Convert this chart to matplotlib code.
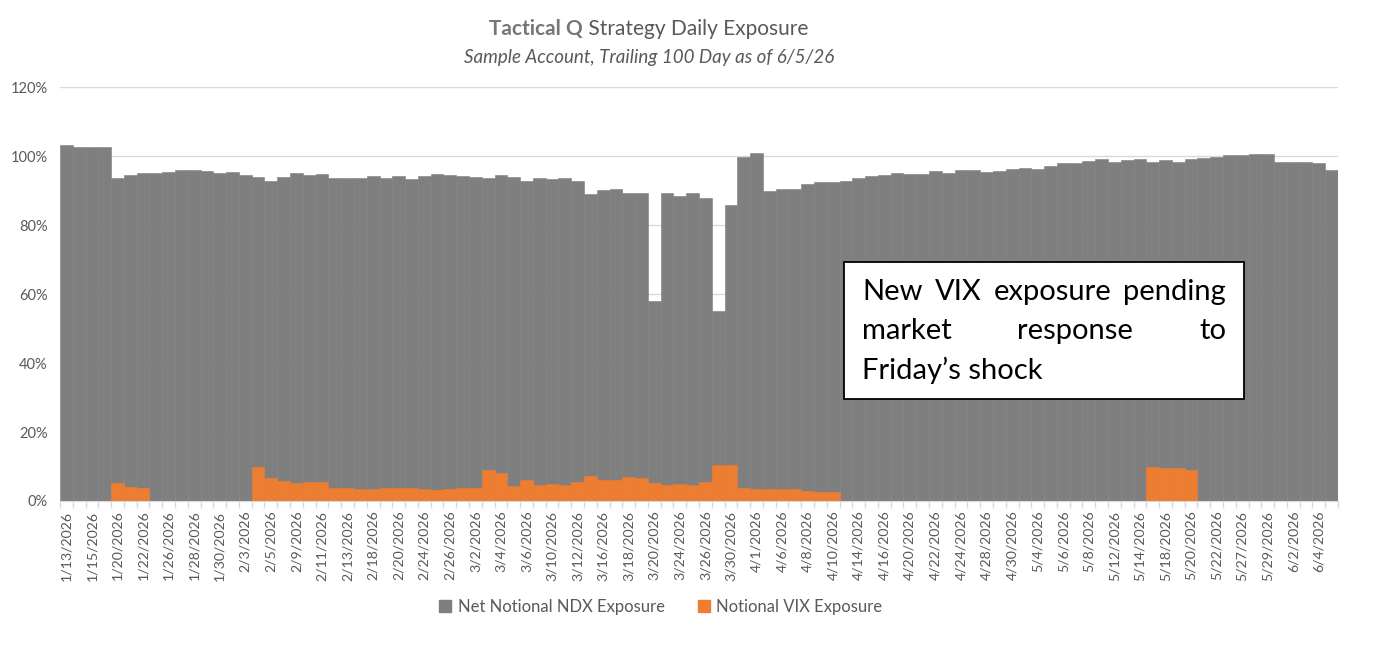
import numpy as np
import matplotlib.pyplot as plt
from matplotlib.patches import Rectangle, Patch

plt.rcParams['font.family'] = ['Lato', 'DejaVu Sans']

# trading days, 1/13/2026 .. 6/5/2026
dates = [
    "1/13/2026", "1/14/2026", "1/15/2026", "1/16/2026", "1/20/2026", "1/21/2026", "1/22/2026", "1/23/2026",
    "1/26/2026", "1/27/2026", "1/28/2026", "1/29/2026", "1/30/2026", "2/2/2026", "2/3/2026", "2/4/2026",
    "2/5/2026", "2/6/2026", "2/9/2026", "2/10/2026", "2/11/2026", "2/12/2026", "2/13/2026", "2/17/2026",
    "2/18/2026", "2/19/2026", "2/20/2026", "2/23/2026", "2/24/2026", "2/25/2026", "2/26/2026", "2/27/2026",
    "3/2/2026", "3/3/2026", "3/4/2026", "3/5/2026", "3/6/2026", "3/9/2026", "3/10/2026", "3/11/2026",
    "3/12/2026", "3/13/2026", "3/16/2026", "3/17/2026", "3/18/2026", "3/19/2026", "3/20/2026", "3/23/2026",
    "3/24/2026", "3/25/2026", "3/26/2026", "3/27/2026", "3/30/2026", "3/31/2026", "4/1/2026", "4/2/2026",
    "4/6/2026", "4/7/2026", "4/8/2026", "4/9/2026", "4/10/2026", "4/13/2026", "4/14/2026", "4/15/2026",
    "4/16/2026", "4/17/2026", "4/20/2026", "4/21/2026", "4/22/2026", "4/23/2026", "4/24/2026", "4/27/2026",
    "4/28/2026", "4/29/2026", "4/30/2026", "5/1/2026", "5/4/2026", "5/5/2026", "5/6/2026", "5/7/2026",
    "5/8/2026", "5/11/2026", "5/12/2026", "5/13/2026", "5/14/2026", "5/15/2026", "5/18/2026", "5/19/2026",
    "5/20/2026", "5/21/2026", "5/22/2026", "5/26/2026", "5/27/2026", "5/28/2026", "5/29/2026", "6/1/2026",
    "6/2/2026", "6/3/2026", "6/4/2026", "6/5/2026",
]

# net notional NDX exposure, %
ndx = [
    103.3, 102.6, 102.6, 102.6, 93.8, 94.6, 95.1, 95.3, 95.4, 95.9,
    96.1, 95.6, 95.1, 95.4, 94.6, 93.9, 92.7, 93.9, 95.1, 94.6,
    94.9, 93.8, 93.8, 93.8, 94.2, 93.8, 94.2, 93.5, 94.2, 94.9,
    94.5, 94.2, 94.1, 93.6, 94.6, 93.9, 92.7, 93.7, 93.4, 93.7,
    92.7, 89.0, 90.1, 90.4, 89.4, 89.4, 58.1, 89.4, 88.6, 89.4,
    88.0, 55.2, 85.9, 99.8, 100.9, 89.8, 90.5, 90.5, 92.0, 92.5,
    92.5, 92.9, 93.6, 94.4, 94.7, 95.3, 95.0, 94.8, 95.6, 95.3,
    96.0, 96.0, 95.5, 95.8, 96.3, 96.7, 96.4, 97.1, 98.0, 98.0,
    98.7, 99.1, 98.5, 99.0, 99.2, 98.5, 98.8, 98.3, 99.1, 99.4,
    99.7, 100.4, 100.4, 100.8, 100.8, 98.4, 98.4, 98.4, 98.1, 96.1,
]

# notional VIX exposure, %
vix = [
    0, 0, 0, 0, 5.2, 4.2, 3.9, 0, 0, 0,
    0, 0, 0, 0, 0, 9.9, 6.8, 5.8, 5.3, 5.6,
    5.4, 3.8, 3.8, 3.6, 3.6, 3.9, 3.8, 3.9, 3.6, 3.3,
    3.5, 3.7, 3.9, 9.0, 8.1, 4.3, 6.0, 4.6, 5.0, 4.5,
    5.4, 7.3, 6.2, 6.0, 7.0, 6.6, 5.1, 4.6, 4.8, 4.6,
    5.5, 10.4, 10.3, 3.8, 3.5, 3.4, 3.4, 3.5, 2.8, 2.5,
    2.5, 0, 0, 0, 0, 0, 0, 0, 0, 0,
    0, 0, 0, 0, 0, 0, 0, 0, 0, 0,
    0, 0, 0, 0, 0, 9.95, 9.7, 9.5, 9.0, 0,
    0, 0, 0, 0, 0, 0, 0, 0, 0, 0,
]

GRAY = "#7f7f7f"
ORANGE = "#ed7d31"
TXT = "#595959"
GRID = "#d9d9d9"

W, H = 1374, 652
fig = plt.figure(figsize=(W / 100, H / 100), dpi=100)
ax = fig.add_axes([60 / W, 1 - 501 / H, 1278 / W, (501 - 87.4) / H])

x = np.arange(len(dates))
ax.bar(x, ndx, width=1.0, color=GRAY, edgecolor=GRAY, linewidth=0.4, zorder=2)
ax.bar(x, vix, width=1.0, color=ORANGE, edgecolor=ORANGE, linewidth=0.4, zorder=3)

ax.set_xlim(-0.5, len(dates) - 0.5)
ax.set_ylim(0, 120)
ax.set_yticks(range(0, 121, 20))
ax.set_yticklabels([f"{v}%" for v in range(0, 121, 20)])
ax.yaxis.grid(True, color=GRID, linewidth=1.0, zorder=1)
ax.set_axisbelow(True)
ax.tick_params(axis='y', length=0, labelsize=10.5, labelcolor=TXT, pad=9)

# tick marks at bar boundaries, labels on every other bar
ax.set_xticks(np.arange(-0.5, len(dates)), labels=[])
ax.set_xticks(x[::2], labels=dates[::2], minor=True)
ax.tick_params(axis='x', which='major', length=5, color=GRID, width=1)
ax.tick_params(axis='x', which='minor', length=0, labelsize=10.2, labelcolor=TXT,
               labelrotation=90, pad=7)

for s in ['top', 'right', 'left']:
    ax.spines[s].set_visible(False)
ax.spines['bottom'].set_color(GRID)
ax.spines['bottom'].set_zorder(4)

renderer = fig.canvas.get_renderer()


def justify(words, y, left, right, **kw):
    # spread words so the line fills left..right
    items = [fig.text(0, y, w, **kw) for w in words]
    widths = [t.get_window_extent(renderer).width for t in items]
    gap = (right - left - sum(widths)) / (len(words) - 1)
    pos = left
    for t, w in zip(items, widths):
        t.set_x(pos / W)
        pos += w + gap


# title: bold part + regular part, centred together
t1 = fig.text(0, 0, "Tactical Q", fontsize=15, fontweight='bold', color="#767676", va='center')
t2 = fig.text(0, 0, " Strategy Daily Exposure", fontsize=15, color=TXT, va='center')
w1 = t1.get_window_extent(renderer).width
w2 = t2.get_window_extent(renderer).width
x0 = 649 - (w1 + w2) / 2
t1.set_position((x0 / W, 1 - 29 / H))
t2.set_position(((x0 + w1) / W, 1 - 29 / H))
fig.text(649 / W, 1 - 57 / H, "Sample Account, Trailing 100 Day as of 6/5/26",
         fontsize=13.5, style='italic', color=TXT, ha='center', va='center')

# annotation box
fig.patches.append(Rectangle((844 / W, 1 - 399 / H), 400 / W, 137 / H,
                             transform=fig.transFigure, facecolor='white',
                             edgecolor='black', linewidth=1.3, zorder=5))
left, right = 862, 1226
kw = dict(fontsize=21, color='black', va='center', zorder=6)
justify(["New", "VIX", "exposure", "pending"], 1 - 292 / H, left, right, **kw)
justify(["market", "response", "to"], 1 - 331 / H, left, right, **kw)
fig.text(left / W, 1 - 370 / H, "Friday\u2019s shock", **kw)

handles = [Patch(color=GRAY, label="Net Notional NDX Exposure"),
           Patch(color=ORANGE, label="Notional VIX Exposure")]
fig.legend(handles=handles, loc='center', bbox_to_anchor=(661 / W, 1 - 607 / H),
           ncol=2, frameon=False, fontsize=12, labelcolor=TXT,
           handlelength=0.7, handleheight=0.7, handletextpad=0.4, columnspacing=2.0)

fig.savefig("out.png", dpi=100)
